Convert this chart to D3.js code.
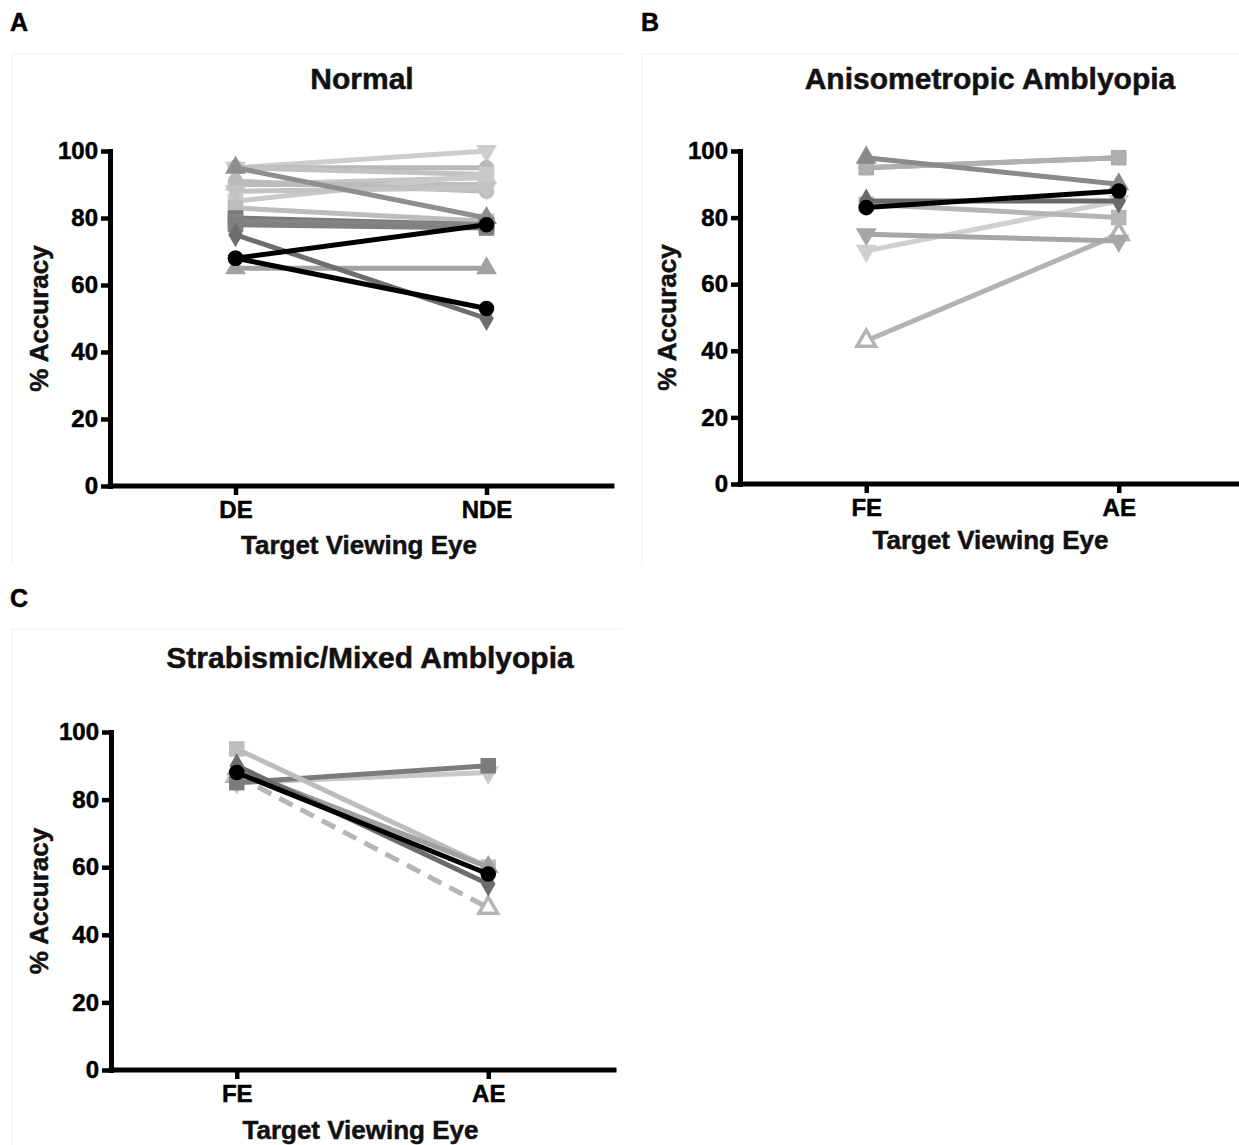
<!DOCTYPE html>
<html><head><meta charset="utf-8">
<script src="https://cdn.jsdelivr.net/npm/d3@7"></script>
<style>
body{margin:0;background:#fff;}
svg{display:block;font-family:"Liberation Sans",Arial,Helvetica,sans-serif;font-weight:bold;}
text{stroke:currentColor;stroke-width:0.5px;}
</style></head>
<body>
<svg id="chart" width="1239" height="1145"></svg>
<script>
// ---------- data ----------
const yTicks = [0, 20, 40, 60, 80, 100];

const normalCategories = ["DE", "NDE"];
const normalValues = [
  [95, 100], [95, 95], [95, 93], [90, 92], [90, 90], [85, 93], [91, 88], [88, 89], [83, 79],
  [65, 65], [95, 80], [80, 78], [79, 78], [78, 77], [75, 50], [68, 78], [68, 53]
];

const anisoCategories = ["FE", "AE"];
const anisoValues = [
  [43, 75], [70, 85], [75, 73], [84, 80], [95, 98], [95, 98], [98, 90], [85, 85], [83, 88]
];

const strabCategories = ["FE", "AE"];
const strabValues = [
  [87, 48], [85, 88], [85, 90], [95, 60], [89, 60], [90, 55], [88, 58]
];

// ---------- styles (separate from data) ----------
const normalShapes = ["tdown","circle","circle","tup","circle","square","circle","tdown","square",
  "tup","tup","square","square","square","diamond","circle","circle"];
const normalColors = ["#cdcdcd","#b9b9b9","#c2c2c2","#c6c6c6","#bdbdbd","#c9c9c9","#bbbbbb","#c3c3c3","#bdbdbd",
  "#a2a2a2","#8e8e8e","#7a7a7a","#858585","#808080","#6e6e6e","#000000","#000000"];

const anisoShapes = ["openTup","tdown","tdown","square","square","circle","tup","diamond","circle"];
const anisoColors = ["#b3b3b3","#d0d0d0","#a6a6a6","#b5b5b5","#a8a8a8","#b0b0b0","#8a8a8a","#6a6a6a","#000000"];

const strabShapes = ["openTup","tdown","square","square","tup","diamond","circle"];
const strabColors = ["#b5b5b5","#c8c8c8","#7c7c7c","#bdbdbd","#a0a0a0","#6c6c6c","#000000"];
const strabDashed = [true,false,false,false,false,false,false];

const svg = d3.select("#chart");

function drawPanel(cfg) {
  const g = svg.append("g");
  g.append("line").attr("x1", cfg.frameX).attr("x2", cfg.frameX + cfg.frameW)
    .attr("y1", cfg.frameY).attr("y2", cfg.frameY).attr("stroke", "#f0f0f0").attr("stroke-width", 1);
  g.append("line").attr("x1", cfg.frameX).attr("x2", cfg.frameX)
    .attr("y1", cfg.frameY).attr("y2", cfg.frameY + cfg.frameH).attr("stroke", "#f0f0f0").attr("stroke-width", 1);

  g.append("text").attr("x", cfg.letterX).attr("y", cfg.letterY)
    .attr("font-size", 25).attr("fill", "#000").style("color", "#000").text(cfg.letter);

  const x = d3.scalePoint().domain(cfg.categories).range([cfg.left, cfg.right]).padding(0.5);
  const y = d3.scaleLinear().domain([0, 100]).range([cfg.bottom, cfg.top]);

  g.append("text").attr("x", cfg.titleX).attr("y", cfg.titleY).attr("text-anchor", "middle")
    .attr("font-size", 30).attr("fill", "#111").style("color", "#111").text(cfg.title);

  const line = d3.line().x((d, i) => x(cfg.categories[i])).y(d => y(d));
  cfg.values.forEach((vals, i) => {
    const col = cfg.colors[i];
    g.append("path").attr("d", line(vals)).attr("fill", "none")
      .attr("stroke", col).attr("stroke-width", 5)
      .attr("stroke-dasharray", cfg.dashed && cfg.dashed[i] ? "15,9" : null);
    vals.forEach((v, j) => {
      const shape = cfg.shapes[i];
      let sym = d3.symbolCircle, size = 190, rot = 0, fill = col, stroke = "none";
      if (shape === "square") { sym = d3.symbolSquare; size = 240; }
      else if (shape === "tup") { sym = d3.symbolTriangle; size = 190; }
      else if (shape === "tdown") { sym = d3.symbolTriangle; size = 190; rot = 180; }
      else if (shape === "diamond") { sym = d3.symbolDiamond; size = 180; }
      else if (shape === "openTup") { sym = d3.symbolTriangle; size = 150; fill = "#fff"; stroke = col; }
      g.append("path").attr("d", d3.symbol(sym, size)())
        .attr("transform", `translate(${x(cfg.categories[j])},${y(v)}) rotate(${rot})`)
        .attr("fill", fill).attr("stroke", stroke).attr("stroke-width", stroke === "none" ? 0 : 3.5);
    });
  });

  const ya = g.append("g").attr("transform", `translate(${cfg.left},0)`)
    .call(d3.axisLeft(y).tickValues(yTicks).tickSize(9).tickSizeOuter(0).tickPadding(3));
  const xa = g.append("g").attr("transform", `translate(0,${cfg.bottom})`)
    .call(d3.axisBottom(x).tickSize(9).tickSizeOuter(0).tickPadding(6));
  xa.select(".domain").attr("d", `M${cfg.left},0H${cfg.right}`);
  [ya, xa].forEach(a => {
    a.select(".domain").attr("stroke", "#000").attr("stroke-width", 5).attr("stroke-linecap", "square");
    a.selectAll(".tick line").attr("stroke", "#000").attr("stroke-width", 4.5);
    a.selectAll(".tick text").attr("font-size", 24).attr("font-family", "Liberation Sans, Arial, sans-serif")
      .attr("font-weight", "bold").attr("fill", "#000").style("color", "#000");
  });

  g.append("text").attr("x", (cfg.left + cfg.right) / 2 - 2).attr("y", cfg.xTitleY)
    .attr("text-anchor", "middle").attr("font-size", 26).attr("fill", "#111").style("color", "#111").text("Target Viewing Eye");
  g.append("text").attr("transform", `translate(${cfg.yTitleX},${(cfg.top + cfg.bottom) / 2}) rotate(-90)`)
    .attr("text-anchor", "middle").attr("font-size", 26).attr("fill", "#111").style("color", "#111").text("% Accuracy");
}

drawPanel({
  letter: "A", letterX: 10, letterY: 31,
  frameX: 12, frameY: 54, frameW: 610, frameH: 510,
  title: "Normal", titleX: 362, titleY: 89,
  categories: normalCategories, values: normalValues, shapes: normalShapes, colors: normalColors,
  left: 110, right: 612, top: 151, bottom: 486, xTitleY: 554, yTitleX: 48
});
drawPanel({
  letter: "B", letterX: 641, letterY: 31,
  frameX: 642, frameY: 54, frameW: 600, frameH: 510,
  title: "Anisometropic Amblyopia", titleX: 990, titleY: 89,
  categories: anisoCategories, values: anisoValues, shapes: anisoShapes, colors: anisoColors,
  left: 740, right: 1245, top: 151, bottom: 484, xTitleY: 549, yTitleX: 676
});
drawPanel({
  letter: "C", letterX: 10, letterY: 607,
  frameX: 12, frameY: 629, frameW: 610, frameH: 520,
  title: "Strabismic/Mixed Amblyopia", titleX: 370, titleY: 668,
  categories: strabCategories, values: strabValues, shapes: strabShapes, colors: strabColors, dashed: strabDashed,
  left: 111, right: 614, top: 732, bottom: 1070, xTitleY: 1139, yTitleX: 48
});
</script>
</body></html>
